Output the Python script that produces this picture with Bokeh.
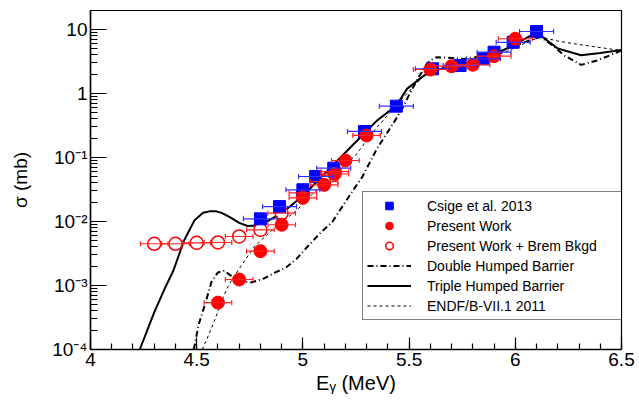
from bokeh.plotting import figure
from bokeh.models import (ColumnDataSource, Whisker, TeeHead, FixedTicker,
                          CustomJSTickFormatter, Legend, LegendItem)
from bokeh.embed import file_html
from bokeh.resources import INLINE

# ---------------- data ----------------
csige_E = [4.80, 4.89, 5.00, 5.06, 5.145, 5.29, 5.44, 5.61, 5.74, 5.85, 5.90, 5.99, 6.10]
csige_s = [0.0110, 0.0171, 0.0313, 0.0505, 0.068, 0.255, 0.634, 2.43, 2.74, 3.48, 4.42, 6.31, 9.3]
csige_dE = [0.08] * 13

pw_E = [4.60, 4.70, 4.80, 4.90, 5.00, 5.10, 5.15, 5.20, 5.30, 5.60, 5.70, 5.80, 5.90, 6.00]
pw_s = [5.4e-4, 1.24e-3, 3.44e-3, 8.9e-3, 0.0234, 0.0374, 0.0552, 0.0898, 0.221, 2.37, 2.67, 2.81, 3.83, 7.16]
pw_dE = [0.065] * 9 + [0.08] * 5

brem_E = [4.30, 4.40, 4.50, 4.60, 4.70, 4.80, 4.90, 5.00, 5.10, 5.15]
brem_s = [4.49e-3, 4.49e-3, 4.64e-3, 4.70e-3, 5.83e-3, 7.4e-3, 0.0135, 0.028, 0.042, 0.06]
brem_dE = [0.065] * 10

triple_E = [4.232, 4.30, 4.35, 4.39, 4.44, 4.49, 4.53, 4.56, 4.59, 4.62, 4.66, 4.70, 4.74,
            4.80, 4.90, 5.00, 5.10, 5.20, 5.30, 5.35, 5.44, 5.49, 5.54, 5.60, 5.70, 5.80,
            5.90, 6.00, 6.10, 6.20, 6.31, 6.40, 6.50]
triple_s = [1e-4, 3.8e-4, 9e-4, 1.7e-3, 5.0e-3, 1.05e-2, 1.37e-2, 1.44e-2, 1.45e-2, 1.35e-2,
            1.15e-2, 9.5e-3, 8.5e-3, 8.8e-3, 1.35e-2, 0.025, 0.055, 0.12, 0.26, 0.38, 0.65,
            1.18, 1.6, 2.24, 2.6, 3.0, 4.0, 5.9, 9.0, 5.05, 3.95, 4.3, 4.8]

double_E = [4.486, 4.51, 4.54, 4.57, 4.60, 4.63, 4.67, 4.72, 4.76, 4.82, 4.87, 4.92, 4.97,
            5.02, 5.08, 5.14, 5.19, 5.24, 5.28, 5.35, 5.43, 5.47, 5.51, 5.55, 5.58, 5.60,
            5.63, 5.70, 5.76, 5.87, 5.98, 6.09, 6.12, 6.18, 6.23, 6.31, 6.385, 6.45, 6.50]
double_s = [1e-4, 2.5e-4, 5.2e-4, 1.15e-3, 1.6e-3, 1.7e-3, 1.35e-3, 1.15e-3, 1.12e-3, 1.3e-3,
            1.6e-3, 1.9e-3, 2.6e-3, 4.0e-3, 6.5e-3, 1.0e-2, 1.8e-2, 3.2e-2, 5.0e-2, 0.14,
            0.36, 0.6, 1.11, 1.91, 2.8, 3.3, 3.69, 3.6, 3.47, 3.93, 5.26, 7.2, 7.6, 5.5,
            3.93, 2.8, 3.28, 4.0, 4.7]

endf_E = [4.526, 4.56, 4.596, 4.62, 4.643, 4.67, 4.706, 4.77, 4.863, 4.97, 5.05, 5.15,
          5.25, 5.33, 5.46, 5.54, 5.60, 5.70, 5.80, 5.91, 6.00, 6.07, 6.12, 6.20, 6.29,
          6.385, 6.50]
endf_s = [1e-4, 1.8e-4, 3.6e-4, 6e-4, 9e-4, 1.3e-3, 1.95e-3, 4.0e-3, 7.8e-3, 1.48e-2,
          0.028, 0.055, 0.11, 0.25, 0.78, 1.5, 2.4, 2.7, 3.1, 3.9, 5.2, 6.7, 7.6, 6.6,
          5.9, 5.3, 4.7]

x_ticks = [4, 4.5, 5, 5.5, 6, 6.5]
x_tick_labels = ["4", "4.5", "5", "5.5", "6", "6.5"]
y_ticks = [1e-4, 1e-3, 1e-2, 1e-1, 1, 10]
y_tick_labels = ["10\u207b\u2074", "10\u207b\u00b3", "10\u207b\u00b2", "10\u207b\u00b9", "1", "10"]

FONT = "Liberation Sans"

p = figure(width=639, height=400, x_range=(4, 6.5), y_range=(1e-4, 19.8),
           y_axis_type="log", output_backend="svg", toolbar_location=None,
           min_border_left=90, min_border_right=18, min_border_top=10, min_border_bottom=51)
p.grid.visible = False
p.outline_line_color = "black"
p.outline_line_width = 1.2
p.background_fill_color = "white"
p.border_fill_color = "white"

# axes
p.xaxis.ticker = FixedTicker(ticks=x_ticks,
                             minor_ticks=[round(4 + 0.1 * i, 2) for i in range(26)])
p.xaxis.formatter = CustomJSTickFormatter(args=dict(tvals=x_ticks, tlabels=x_tick_labels), code="""
let best = 0, bd = 1e9;
for (let i = 0; i < tvals.length; i++) { const d = Math.abs(tick - tvals[i]); if (d < bd) { bd = d; best = i; } }
return tlabels[best];
""")
p.yaxis.ticker = FixedTicker(ticks=y_ticks,
                             minor_ticks=[m * 10.0 ** e for e in range(-4, 2) for m in range(2, 10)])
p.yaxis.formatter = CustomJSTickFormatter(args=dict(tvals=y_ticks, tlabels=y_tick_labels), code="""
let best = 0, bd = 1e9;
for (let i = 0; i < tvals.length; i++) { const d = Math.abs(Math.log10(tick) - Math.log10(tvals[i])); if (d < bd) { bd = d; best = i; } }
return tlabels[best];
""")
for ax in (p.xaxis[0], p.yaxis[0]):
    ax.major_tick_out = 0
    ax.minor_tick_out = 0
    ax.axis_line_width = 1.5
    ax.major_tick_line_width = 1.2
    ax.minor_tick_line_width = 1.2
    ax.major_label_text_font = FONT
    ax.major_label_text_font_size = "19px"
    ax.major_label_text_color = "black"
    ax.axis_label_text_font = FONT
    ax.axis_label_text_font_style = "normal"
    ax.axis_label_text_color = "black"
p.xaxis.major_tick_in = 12
p.xaxis.minor_tick_in = 6
p.yaxis.major_tick_in = 16
p.yaxis.minor_tick_in = 7
p.xaxis.major_label_standoff = 3
p.yaxis.major_label_standoff = 3
p.xaxis.axis_label = "E\u1d67 (MeV)"
p.xaxis.axis_label_text_font_size = "20px"
p.xaxis.axis_label_standoff = 3
p.yaxis.axis_label = "\u03c3 (mb)"
p.yaxis.axis_label_text_font_size = "19px"
p.yaxis.axis_label_standoff = 18

# curves
r_double = p.line(double_E, double_s, line_color="black", line_width=2, line_dash="6 3 1 3")
r_triple = p.line(triple_E, triple_s, line_color="black", line_width=2)
r_endf = p.line(endf_E, endf_s, line_color="black", line_width=1, line_dash="3 3")

# error bars
def xerr(E, s, dE, color):
    src = ColumnDataSource(dict(y=s, lo=[e - d for e, d in zip(E, dE)],
                                hi=[e + d for e, d in zip(E, dE)]))
    w = Whisker(base="y", lower="lo", upper="hi", dimension="width", source=src,
                line_color=color, line_width=1.2, level="glyph",
                lower_head=TeeHead(size=5, line_color=color, line_width=1.2),
                upper_head=TeeHead(size=5, line_color=color, line_width=1.2))
    p.add_layout(w)

xerr(brem_E, brem_s, brem_dE, "#ff2020")
xerr(csige_E, csige_s, csige_dE, "#3030ff")
xerr(pw_E, pw_s, pw_dE, "#ff2020")

r_brem = p.scatter(brem_E, brem_s, marker="circle", size=13, fill_color="white",
                   line_color="#ff0000", line_width=1.5)
r_csige = p.scatter(csige_E, csige_s, marker="square", size=12, fill_color="#0000ff",
                    line_color="#0000ff")
r_pw = p.scatter(pw_E, pw_s, marker="circle", size=13, fill_color="#ff0000",
                 line_color="#ff0000")

legend = Legend(items=[
    LegendItem(label="Csige et al. 2013", renderers=[r_csige]),
    LegendItem(label="Present Work", renderers=[r_pw]),
    LegendItem(label="Present Work + Brem Bkgd", renderers=[r_brem]),
    LegendItem(label="Double Humped Barrier", renderers=[r_double]),
    LegendItem(label="Triple Humped Barrier", renderers=[r_triple]),
    LegendItem(label="ENDF/B-VII.1 2011", renderers=[r_endf]),
], location=(272, 29))
legend.label_text_font = FONT
legend.label_text_font_size = "14px"
legend.label_text_color = "black"
legend.border_line_color = "black"
legend.border_line_width = 1
legend.background_fill_alpha = 1
legend.padding = 4
legend.spacing = 1
legend.glyph_height = 19
legend.label_height = 19
legend.glyph_width = 44
legend.label_standoff = 16
legend.label_width = 196
legend.margin = 0
p.add_layout(legend)

open("out.html", "w").write(file_html(p, INLINE))
